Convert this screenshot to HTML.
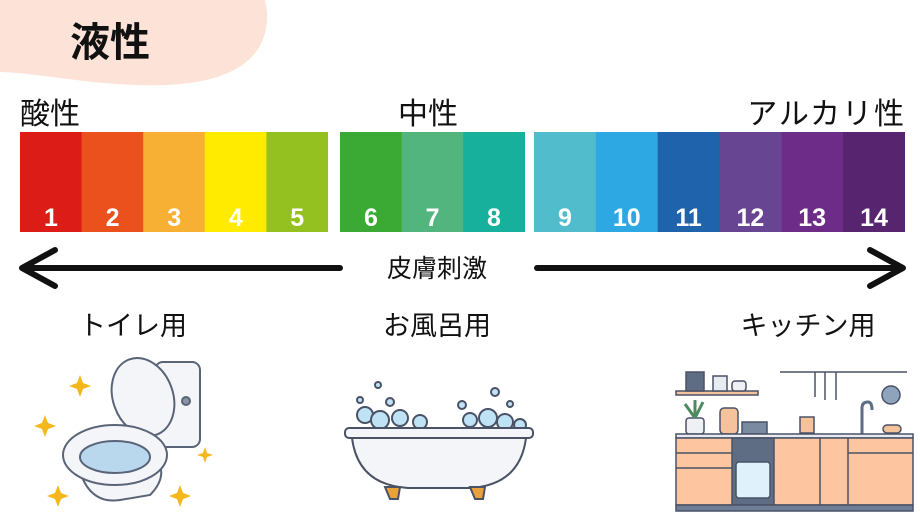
<!DOCTYPE html>
<html><head><meta charset="utf-8"><style>
body{margin:0;width:920px;height:518px;background:#fff;overflow:hidden;font-family:"Liberation Sans","Noto Sans CJK JP",sans-serif;}
svg text{font-family:"Liberation Sans","Noto Sans CJK JP",sans-serif;}
</style></head><body>
<svg width="920" height="518" viewBox="0 0 920 518" xmlns="http://www.w3.org/2000/svg">
<path d="M0 0 H265 C272 30 262 62 220 76 C180 90 120 86 60 78 C30 74 10 72 0 72 Z" fill="#fde2d8"/>
<text x="70" y="56" font-size="40" font-weight="bold" fill="#111">液性</text>
<text x="20" y="124" font-size="30" fill="#111">酸性</text>
<text x="398" y="124" font-size="30" fill="#111">中性</text>
<text x="906" y="124" font-size="30" fill="#111" text-anchor="end" letter-spacing="2">アルカリ性</text>
<g>
<rect x="20" y="132" width="62" height="100" fill="#dc1c17"/>
<rect x="81.6" y="132" width="62" height="100" fill="#ea511d"/>
<rect x="143.2" y="132" width="62" height="100" fill="#f8b034"/>
<rect x="204.8" y="132" width="62" height="100" fill="#ffeb00"/>
<rect x="266.4" y="132" width="61.6" height="100" fill="#95c120"/>
<rect x="340" y="132" width="62" height="100" fill="#3aaa35"/>
<rect x="401.6" y="132" width="62" height="100" fill="#52b57d"/>
<rect x="463.2" y="132" width="61.8" height="100" fill="#17b09d"/>
<rect x="534" y="132" width="62" height="100" fill="#51bccc"/>
<rect x="595.8" y="132" width="62" height="100" fill="#2ea8e2"/>
<rect x="657.6" y="132" width="62" height="100" fill="#1e63ac"/>
<rect x="719.4" y="132" width="62" height="100" fill="#674593"/>
<rect x="781.2" y="132" width="62" height="100" fill="#6c2c88"/>
<rect x="843" y="132" width="62" height="100" fill="#572470"/>
</g>
<g fill="#fff" font-size="25" font-weight="bold" text-anchor="middle">
<text x="51" y="226">1</text><text x="112.6" y="226">2</text><text x="174.2" y="226">3</text><text x="235.8" y="226">4</text><text x="297.2" y="226">5</text>
<text x="371" y="226">6</text><text x="432.6" y="226">7</text><text x="494" y="226">8</text>
<text x="565" y="226">9</text><text x="626.8" y="226">10</text><text x="688.6" y="226">11</text><text x="750.4" y="226">12</text><text x="812.2" y="226">13</text><text x="874" y="226">14</text>
</g>
<g stroke="#111" stroke-width="6" stroke-linecap="round" fill="none" stroke-linejoin="round">
<line x1="24" y1="268" x2="340" y2="268"/>
<polyline points="55,250 22,268 55,286"/>
<line x1="537" y1="268" x2="902" y2="268"/>
<polyline points="870,250 903,268 870,286"/>
</g>
<text x="437" y="277" font-size="25" fill="#111" text-anchor="middle">皮膚刺激</text>
<text x="133" y="335" font-size="27" fill="#111" text-anchor="middle">トイレ用</text>
<text x="437" y="335" font-size="27" fill="#111" text-anchor="middle">お風呂用</text>
<text x="808" y="335" font-size="27" fill="#111" text-anchor="middle">キッチン用</text>
<!-- toilet -->
<g stroke="#5a6478" stroke-width="2" fill="#f4f5f8">
<rect x="155" y="362" width="45" height="85" rx="8"/>
<ellipse cx="143" cy="397" rx="30" ry="40" transform="rotate(-20 143 397)"/>
<path d="M78 465 Q88 505 120 500 L150 495 Q165 480 160 465 Z"/>
<ellipse cx="115" cy="455" rx="52" ry="30"/>
<ellipse cx="115" cy="457" rx="35" ry="16" fill="#b9d8ee"/>
<circle cx="186" cy="401" r="4" fill="#8a93a5"/>
</g>
<g fill="#f5b81c">
<path d="M80 375 l3 8 8 3 -8 3 -3 8 -3 -8 -8 -3 8 -3z"/>
<path d="M45 415 l3 8 8 3 -8 3 -3 8 -3 -8 -8 -3 8 -3z"/>
<path d="M205 447 l2 6 6 2 -6 2 -2 6 -2 -6 -6 -2 6 -2z"/>
<path d="M58 485 l3 8 8 3 -8 3 -3 8 -3 -8 -8 -3 8 -3z"/>
<path d="M180 485 l3 8 8 3 -8 3 -3 8 -3 -8 -8 -3 8 -3z"/>
</g>
<!-- bathtub -->
<g stroke="#4a5266" stroke-width="2">
<g fill="#bfe3f5"><circle cx="365" cy="415" r="8"/><circle cx="380" cy="420" r="9"/><circle cx="400" cy="418" r="8"/><circle cx="420" cy="422" r="7"/><circle cx="470" cy="420" r="7"/><circle cx="488" cy="418" r="9"/><circle cx="505" cy="422" r="8"/><circle cx="520" cy="425" r="6"/><circle cx="390" cy="402" r="4"/><circle cx="378" cy="385" r="3"/><circle cx="462" cy="405" r="4"/><circle cx="495" cy="392" r="4"/><circle cx="510" cy="404" r="3"/><circle cx="360" cy="400" r="3"/></g>
<rect x="345" y="428" width="188" height="10" rx="4" fill="#f4f5f8"/>
<path d="M352 438 H526 Q520 485 470 488 H408 Q358 485 352 438 Z" fill="#f4f5f8"/>
<path d="M385 487 l5 12 h8 l2 -12z M470 487 l5 12 h8 l2 -12z" fill="#e9a23b"/>
</g>
<!-- kitchen -->
<g stroke="#4a5266" stroke-width="1.5">
<rect x="676" y="391" width="82" height="4" fill="#f4c39c"/>
<rect x="686" y="372" width="18" height="19" fill="#5f6d84"/>
<rect x="713" y="376" width="14" height="15" fill="#e8ecf2"/>
<rect x="732" y="381" width="14" height="10" rx="3" fill="#eef0f4"/>
<line x1="780" y1="372" x2="907" y2="372"/>
<line x1="815" y1="372" x2="815" y2="397"/><line x1="825" y1="372" x2="825" y2="400"/><line x1="836" y1="372" x2="836" y2="400"/>
<circle cx="891" cy="395" r="9" fill="#8ea4bd"/>
<path d="M862 435 V408 Q862 402 868 402 Q872 402 872 410" fill="none" stroke="#5f6d84" stroke-width="3"/>
<rect x="686" y="418" width="18" height="16" rx="3" fill="#eef0f4"/>
<path d="M695 418 l-10 -14 M695 418 l8 -16 M695 418 l0 -18" stroke="#4e8a60" stroke-width="3"/>
<rect x="720" y="408" width="18" height="26" rx="4" fill="#f4c39c"/>
<rect x="742" y="422" width="25" height="12" fill="#7a8aa1"/>
<rect x="800" y="417" width="14" height="16" fill="#f4c39c"/>
<rect x="883" y="425" width="18" height="8" rx="4" fill="#f4c39c"/>
<rect x="676" y="434" width="237" height="4" fill="#e8ecf2"/>
<rect x="676" y="438" width="237" height="67" fill="#fdc6a0"/>
<rect x="732" y="438" width="42" height="67" fill="#5f6d84"/>
<rect x="736" y="462" width="34" height="36" rx="3" fill="#dff1fb"/>
<line x1="676" y1="453" x2="732" y2="453"/><line x1="676" y1="468" x2="732" y2="468"/>
<line x1="820" y1="438" x2="820" y2="505"/><line x1="848" y1="438" x2="848" y2="505"/>
<line x1="848" y1="453" x2="913" y2="453"/>
<rect x="676" y="505" width="237" height="6" fill="#6f7e96"/>
</g>
</svg>
</body></html>
